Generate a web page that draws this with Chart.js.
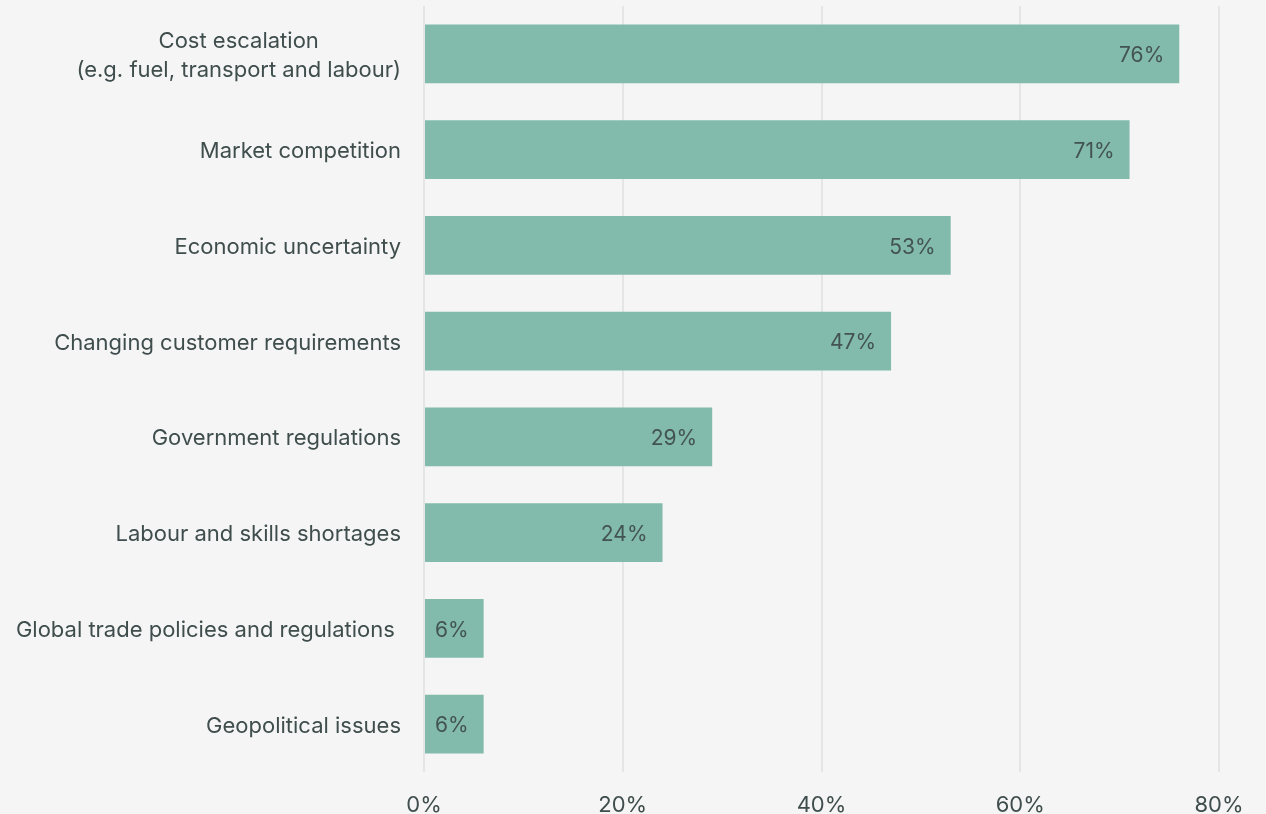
<!DOCTYPE html>
<html>
<head>
<meta charset="utf-8">
<script src="https://cdn.jsdelivr.net/npm/chart.js@4/dist/chart.umd.min.js"></script>
<style>
  html, body { margin: 0; padding: 0; background: #f5f5f5; }
  #wrap { width: 1266px; height: 814px; }
</style>
</head>
<body>
<div id="wrap"><canvas id="barChart"></canvas></div>
<script>
// Retos del sector (porcentaje de respuestas)
const categories = [
    ['Cost escalation', '(e.g. fuel, transport and labour)'],
    'Market competition',
    'Economic uncertainty',
    'Changing customer requirements',
    'Government regulations',
    'Labour and skills shortages',
    'Global trade policies and regulations ',
    'Geopolitical issues'
];
const values = [76, 71, 53, 47, 29, 24, 6, 6];
const xTicks = [0, 20, 40, 60, 80];

const textColor = '#3f4e4d';
const fontFamily = 'Inter, Roboto, sans-serif';

// Etiquetas del eje Y: alineadas a la derecha, líneas centradas entre sí
const yLabelsPlugin = {
    id: 'yLabels',
    afterDraw(chart) {
        const ctx = chart.ctx;
        const y = chart.scales.y;
        const rightEdge = chart.chartArea.left - 23;
        const lineHeight = 29;
        ctx.save();
        ctx.font = '22px ' + fontFamily;
        ctx.fillStyle = textColor;
        ctx.textAlign = 'center';
        ctx.textBaseline = 'middle';
        categories.forEach((label, i) => {
            const lines = Array.isArray(label) ? label : [label];
            const maxW = Math.max(...lines.map(l => ctx.measureText(l).width));
            const cx = rightEdge - maxW / 2;
            const cy = y.getPixelForValue(i) + 2;
            const startY = cy - (lines.length - 1) * lineHeight / 2;
            lines.forEach((l, j) => ctx.fillText(l, cx, startY + j * lineHeight));
        });
        ctx.restore();
    }
};

// Valor dentro del extremo de cada barra
const valueLabelsPlugin = {
    id: 'valueLabels',
    afterDatasetsDraw(chart) {
        const ctx = chart.ctx;
        const meta = chart.getDatasetMeta(0);
        ctx.save();
        ctx.font = '21px ' + fontFamily;
        ctx.fillStyle = '#435351';
        ctx.textAlign = 'right';
        ctx.textBaseline = 'middle';
        meta.data.forEach((bar, i) => {
            ctx.fillText(values[i] + '%', bar.x - 15, bar.y + 2);
        });
        ctx.restore();
    }
};

const barData = {
    labels: categories,
    datasets: [{
        data: values,
        backgroundColor: '#82bbab',
        borderWidth: 0,
        barPercentage: 0.616,
        categoryPercentage: 1
    }]
};

const barConfig = {
    type: 'bar',
    data: barData,
    options: {
        indexAxis: 'y',
        responsive: true,
        maintainAspectRatio: false,
        animation: false,
        layout: {
            padding: { top: 6, right: 47, left: 0, bottom: 0 }
        },
        plugins: {
            legend: { display: false },
            tooltip: { enabled: false }
        },
        scales: {
            x: {
                min: 0,
                max: 80,
                afterBuildTicks: (scale) => {
                    scale.ticks = xTicks.map(v => ({ value: v }));
                },
                afterFit: (scale) => { scale.height = 42; },
                border: { display: false },
                grid: {
                    color: '#e3e6e5',
                    lineWidth: 2,
                    drawTicks: false
                },
                ticks: {
                    padding: 20,
                    color: textColor,
                    font: { family: fontFamily, size: 22 },
                    callback: (v) => v + '%'
                }
            },
            y: {
                afterFit: (scale) => { scale.width = 424; },
                border: { display: false },
                grid: { display: false },
                ticks: { display: false }
            }
        }
    },
    plugins: [yLabelsPlugin, valueLabelsPlugin]
};

const barCtx = document.getElementById('barChart').getContext('2d');
new Chart(barCtx, barConfig);
</script>
</body>
</html>
